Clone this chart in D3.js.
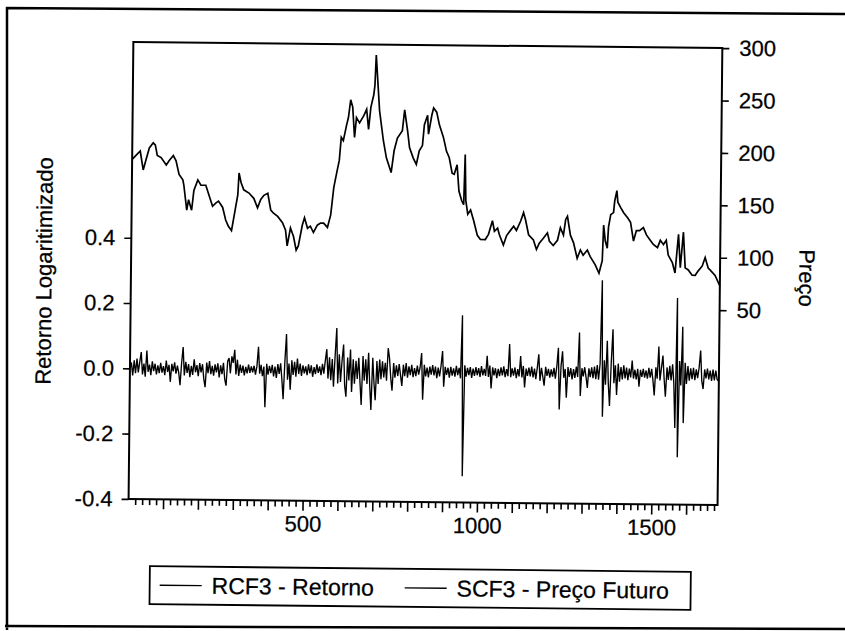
<!DOCTYPE html>
<html><head><meta charset="utf-8">
<script src="https://cdn.jsdelivr.net/npm/d3@7"></script>
<style>
body{margin:0;background:#fff}
svg{display:block}
text{font-family:"Liberation Sans",Arial,sans-serif;fill:#000;stroke:#000;stroke-width:0.25px}
</style>
</head><body><svg id="c" width="845" height="631"></svg>
<script>
// ---------- data ----------
const xLabelTicks = [500, 1000, 1500];
const leftTicks = [-0.4, -0.2, 0.0, 0.2, 0.4];
const rightTicks = [50, 100, 150, 200, 250, 300];
const seriesNames = ["RCF3 - Retorno", "SCF3 - Preço Futuro"];
const leftTitle = "Retorno Logaritimizado";
const rightTitle = "Preço";

const priceObs = [
  1,18,24,33,41,50,61,67,73,84,99,107,119,127,136,147,150,159,164,173,
  179,190,199,213,222,233,242,250,262,271,279,288,294,305,308,314,322,337,351,362,
  371,380,391,400,408,420,434,443,448,457,466,474,480,491,497,506,514,523,534,543,
  552,563,572,580,589,595,600,606,615,620,626,632,638,643,652,664,672,678,684,692,
  695,698,704,709,721,730,744,752,761,775,781,790,796,807,816,824,833,838,847,850,
  859,864,873,881,893,902,910,919,925,933,939,947,953,956,959,965,973,982,993,1002,
  1016,1025,1036,1042,1051,1056,1068,1077,1088,1097,1105,1117,1125,1131,1140,1154,1163,1171,1183,1194,
  1200,1211,1223,1231,1240,1246,1251,1260,1269,1280,1289,1297,1309,1317,1332,1343,1352,1355,1360,1366,
  1369,1375,1383,1386,1392,1395,1403,1412,1424,1432,1441,1449,1458,1469,1478,1489,1498,1510,1518,1527,
  1535,1541,1553,1561,1570,1576,1584,1590,1599,1610,1619,1627,1639,1647,1656,1662,1676,1690
];
const priceVal = [
  188,194,196,178,188,199,204,202,192,190,183,187,192,187,174,169,164,140,150,140,
  159,169,164,164,155,144,147,149,143,131,125,121,133,155,176,167,160,157,152,143,
  151,155,157,141,138,135,129,122,107,124,116,103,107,127,134,124,126,120,127,129,
  129,125,137,163,179,189,211,208,223,230,247,240,211,230,225,232,238,219,240,252,
  261,290,261,237,208,192,178,199,211,218,238,218,202,192,186,199,204,224,233,215,
  233,240,236,224,212,199,193,178,177,186,161,152,148,196,152,139,143,133,119,115,
  115,120,133,123,126,120,110,119,124,128,124,133,141,134,120,115,106,112,117,122,
  114,110,115,127,120,135,138,120,113,98,106,101,106,100,92,84,96,130,115,108,
  128,140,142,153,163,152,147,142,137,133,115,125,125,128,121,116,112,109,116,112,
  116,102,95,85,122,90,124,90,88,83,83,87,92,100,90,88,83,73
];

// RCF3 log return, one value every 4 observations starting at obs 1
const returnStart = 1, returnStep = 4;
const returnVal = [
  0.000,0.018,-0.022,0.025,-0.015,0.030,-0.012,0.020,0.050,-0.018,
  0.015,-0.025,0.055,-0.010,0.012,-0.020,0.022,-0.008,0.015,-0.018,
  0.010,-0.014,0.018,-0.012,0.008,-0.020,0.025,-0.010,0.012,-0.040,
  0.015,-0.008,0.020,-0.015,0.010,-0.012,-0.050,0.018,0.067,-0.020,
  0.022,-0.012,0.015,-0.025,0.010,-0.018,0.030,-0.010,0.012,-0.022,
  0.018,-0.010,0.015,-0.030,-0.055,0.020,-0.012,0.025,-0.015,0.010,
  -0.020,0.015,-0.010,0.018,-0.025,0.012,-0.015,0.020,-0.030,-0.050,
  0.025,0.035,-0.012,0.040,0.020,0.060,-0.015,0.030,-0.020,0.015,
  -0.010,0.012,-0.018,0.008,-0.012,0.015,-0.010,0.010,-0.008,0.012,
  -0.015,0.010,0.070,-0.012,0.015,-0.020,0.010,-0.115,0.018,-0.015,
  0.012,-0.010,0.015,-0.020,0.010,-0.025,0.018,-0.012,0.020,-0.030,
  -0.090,0.025,0.110,-0.030,0.020,-0.060,0.030,-0.015,0.025,-0.020,
  0.035,-0.012,0.020,-0.018,0.015,-0.010,0.012,-0.015,0.018,-0.010,
  0.015,-0.020,0.010,-0.012,0.018,-0.008,0.012,-0.015,0.020,-0.010,
  0.030,0.065,-0.025,0.040,-0.030,0.035,-0.050,0.045,0.130,-0.040,
  0.050,-0.035,0.030,0.080,-0.045,-0.080,0.040,-0.030,0.065,-0.065,
  0.035,-0.040,0.030,-0.025,0.040,-0.035,-0.105,0.045,-0.030,0.035,
  -0.040,0.055,-0.045,-0.120,0.040,-0.035,-0.090,0.030,-0.040,0.035,
  -0.025,0.030,-0.020,0.025,-0.030,0.070,0.040,-0.020,-0.060,0.025,
  -0.020,0.018,-0.015,0.022,-0.012,-0.045,0.020,-0.015,0.025,-0.020,
  0.015,-0.012,0.020,-0.018,0.010,-0.015,0.018,-0.010,0.012,0.056,
  -0.087,0.020,-0.015,0.012,-0.018,0.015,-0.010,0.020,-0.012,0.015,
  -0.020,0.012,-0.015,0.018,0.063,-0.046,0.015,-0.010,0.012,-0.018,
  0.015,-0.012,0.010,-0.015,0.018,-0.010,0.012,-0.020,0.173,-0.320,
  0.020,-0.015,0.012,-0.010,0.015,-0.018,0.010,-0.012,0.015,-0.010,
  0.012,-0.015,0.018,-0.010,0.010,-0.012,0.050,-0.015,0.020,-0.050,
  0.015,-0.010,0.012,-0.018,0.010,-0.012,0.015,-0.010,0.018,-0.015,
  0.010,-0.012,0.087,-0.015,0.012,-0.010,0.015,-0.018,0.010,-0.012,
  0.050,-0.015,0.020,-0.046,0.012,-0.010,0.015,-0.012,0.018,-0.015,
  0.012,-0.020,0.015,0.056,-0.025,0.015,-0.012,-0.040,0.018,-0.010,
  0.012,-0.015,0.010,-0.012,0.015,-0.018,0.020,0.077,-0.112,0.020,
  0.066,-0.015,0.012,-0.076,0.018,-0.012,0.015,-0.020,0.012,-0.015,
  0.020,-0.012,0.124,-0.070,0.015,-0.010,0.018,-0.012,-0.045,0.015,
  -0.012,0.018,-0.015,0.020,-0.018,0.025,-0.020,0.030,0.285,-0.133,
  0.040,-0.035,0.100,-0.030,-0.100,0.035,0.135,-0.030,0.025,-0.066,
  0.030,-0.025,0.020,-0.018,0.025,-0.015,0.018,-0.020,0.015,-0.012,
  0.040,-0.015,0.012,-0.018,0.015,-0.040,0.012,-0.010,0.015,-0.012,
  0.010,-0.015,0.018,-0.012,0.015,-0.020,-0.066,0.020,-0.015,0.084,
  -0.020,0.018,0.056,-0.015,-0.070,0.020,-0.018,0.025,-0.020,0.030,
  -0.030,-0.165,0.233,-0.255,0.040,-0.035,0.145,-0.150,0.035,-0.030,
  0.025,-0.020,0.018,-0.015,0.020,-0.018,0.015,-0.012,0.020,0.073,
  -0.020,-0.045,0.015,-0.012,0.018,-0.015,0.012,-0.020,0.015,-0.018,
  0.012,-0.015,-0.020
];

// ---------- layout ----------
const svg = d3.select("#c");
const P = {left:131, right:720, top:45, bottom:502};
const x = d3.scaleLinear().domain([1, 1690]).range([P.left, P.right]);
const yL = d3.scaleLinear().domain([-0.4, 1.0]).range([P.bottom, P.top]);
const yR = d3.scaleLinear().domain([-136, 300]).range([P.bottom, P.top]);

// outer frame (slightly skewed like the scan)
svg.append("path")
  .attr("d", "M7,630 L7,8 L845,14 M5,626 L845,629")
  .attr("fill","none").attr("stroke","#000").attr("stroke-width",2.5);

const g = svg.append("g").attr("transform","rotate(0.6,425,270)");

const priceData = priceObs.map((o,i)=>({o, v: priceVal[i]}));
const retData = returnVal.map((v,i)=>({o: returnStart + i*returnStep, v}));

g.append("path").datum(retData)
  .attr("fill","none").attr("stroke","#000").attr("stroke-width",1.35)
  .attr("d", d3.line().x(d=>x(d.o)).y(d=>yL(d.v)));

g.append("path").datum(priceData)
  .attr("fill","none").attr("stroke","#000").attr("stroke-width",1.7)
  .attr("d", d3.line().x(d=>x(d.o)).y(d=>yR(d.v)));

// plot frame
g.append("rect").attr("x",P.left).attr("y",P.top)
  .attr("width",P.right-P.left).attr("height",P.bottom-P.top)
  .attr("fill","none").attr("stroke","#000").attr("stroke-width",2);

const fs = 22;
function styleAxis(sel){
  sel.select(".domain").remove();
  sel.selectAll(".tick line").attr("stroke","#000").attr("stroke-width",1.6);
  sel.selectAll("text").attr("font-size",fs).attr("font-family","'Liberation Sans',Arial,sans-serif").attr("fill","#000");
}

// left axis
g.append("g").attr("transform",`translate(${P.left},0)`)
  .call(d3.axisLeft(yL).tickValues(leftTicks).tickFormat(d=>d.toFixed(1)).tickSize(7).tickPadding(9))
  .call(styleAxis);

// right axis
g.append("g").attr("transform",`translate(${P.right},0)`)
  .call(d3.axisRight(yR).tickValues(rightTicks).tickFormat(d=>String(d)).tickSize(7).tickPadding(10))
  .call(styleAxis);

// bottom axis: minor ticks every 20, major every 100, labels at 500s
const minor = d3.range(20, 1690, 20).filter(d=>d%100!==0);
const major = d3.range(100, 1690, 100);
g.append("g").attr("transform",`translate(0,${P.bottom})`)
  .call(d3.axisBottom(x).tickValues(minor).tickFormat("").tickSize(6).tickSizeOuter(0))
  .call(styleAxis);
g.append("g").attr("transform",`translate(0,${P.bottom})`)
  .call(d3.axisBottom(x).tickValues(major).tickFormat(d=>xLabelTicks.includes(d)?String(d):"").tickSize(10).tickPadding(5))
  .call(styleAxis);

// axis titles
g.append("text").attr("transform","translate(44,275) rotate(-90)")
  .attr("text-anchor","middle").attr("dy","0.35em").attr("font-size",fs).text(leftTitle);
g.append("text").attr("transform","translate(807,274) rotate(90)")
  .attr("text-anchor","middle").attr("dy","0.35em").attr("font-size",fs).text(rightTitle);

// legend
const L = {x:153, y:569, w:541, h:38};
g.append("rect").attr("x",L.x).attr("y",L.y).attr("width",L.w).attr("height",L.h)
  .attr("fill","#fff").attr("stroke","#000").attr("stroke-width",1.8);
const ly = L.y + L.h/2;
const items = [{x0:163, x1:205, tx:215}, {x0:408, x1:450, tx:460}];
items.forEach((it,i)=>{
  g.append("line").attr("x1",it.x0).attr("x2",it.x1).attr("y1",ly).attr("y2",ly)
    .attr("stroke","#000").attr("stroke-width",1.3);
  g.append("text").attr("x",it.tx).attr("y",ly).attr("dy","0.35em")
    .attr("font-size",23).text(seriesNames[i]);
});
</script>
</body></html>
